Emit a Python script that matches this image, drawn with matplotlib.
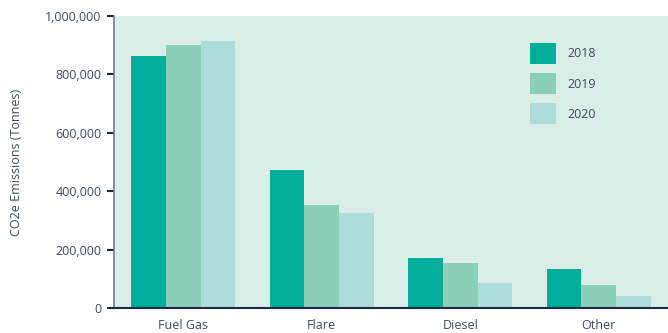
import matplotlib
matplotlib.use("Agg")
import matplotlib.pyplot as plt
import numpy as np
from matplotlib.ticker import FuncFormatter

categories = ["Fuel Gas", "Flare", "Diesel", "Other"]
years = ["2018", "2019", "2020"]
emissions_2018 = [863000, 473000, 171000, 134000]
emissions_2019 = [900000, 353000, 154000, 79000]
emissions_2020 = [914000, 325000, 86000, 41000]
series = [emissions_2018, emissions_2019, emissions_2020]
colors = ["#00AE9A", "#8ACFB8", "#ADDDDA"]

text_color = "#3E4A5E"
navy = "#1B2A47"

plt.rcParams["font.family"] = ["Open Sans", "DejaVu Sans"]

fig = plt.figure(figsize=(6.68, 3.33), dpi=100)
ax = fig.add_axes([0.1707, 0.0751, 0.8293, 0.8769])
ax.set_facecolor("#DAEEE7")

x = np.arange(len(categories))
width = 0.25
for i, (vals, col, yr) in enumerate(zip(series, colors, years)):
    ax.bar(x + (i - 1) * width, vals, width, color=col, label=yr, linewidth=0)

ax.set_xlim(-0.5, 3.5)
ax.set_ylim(0, 1000000)
ax.set_yticks(np.arange(0, 1000001, 200000))
ax.yaxis.set_major_formatter(FuncFormatter(lambda v, p: f"{int(v):,}"))
ax.set_xticks(x)
ax.set_xticklabels(categories)

for side in ("top", "right"):
    ax.spines[side].set_visible(False)
ax.spines["left"].set_color("#6F7C90")
ax.spines["left"].set_linewidth(1.2)
ax.spines["bottom"].set_color(navy)
ax.spines["bottom"].set_linewidth(1.5)

ax.tick_params(axis="y", length=5, width=1.5, color=navy, labelsize=9,
               labelcolor=text_color, pad=4)
ax.tick_params(axis="x", length=0, labelsize=9, labelcolor=text_color, pad=8)

ax.set_ylabel("CO2e Emissions (Tonnes)", fontsize=9, color=text_color, labelpad=16)

leg = ax.legend(loc="upper left", bbox_to_anchor=(0.751, 0.908), frameon=False,
                fontsize=9, handlelength=2.1, handleheight=2.2,
                labelspacing=0.75, handletextpad=0.9, borderaxespad=0,
                borderpad=0)
for t in leg.get_texts():
    t.set_color(text_color)

fig.savefig("out.png", dpi=100)
